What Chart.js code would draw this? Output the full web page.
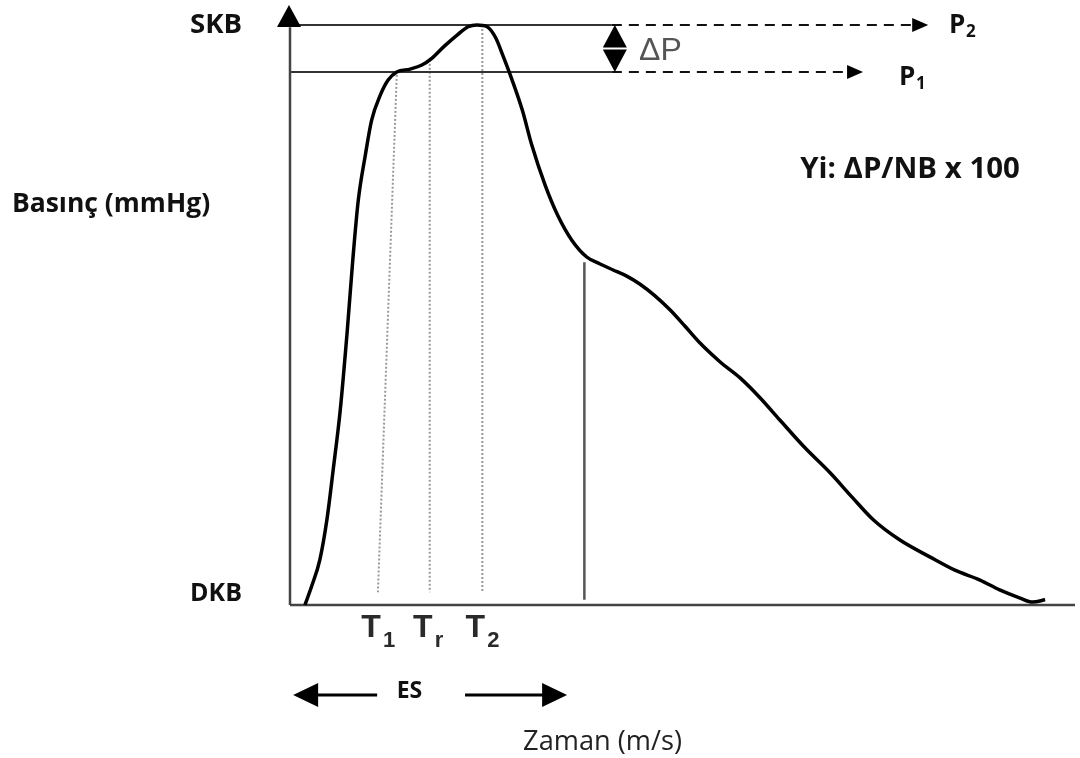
<!DOCTYPE html>
<html>
<head>
<meta charset="utf-8">
<script src="https://cdn.jsdelivr.net/npm/chart.js@4.4.1/dist/chart.umd.min.js"></script>
<style>
  html, body { margin: 0; padding: 0; background: #fff; }
  canvas { display: block; }
</style>
</head>
<body>
<canvas id="pulseChart" width="1080" height="758"></canvas>
<script>
// pulse wave: time as % of the drawn window, pressure as % between DKB (0) and SKB (100)
const waveTime = [1.9, 2.8, 3.8, 4.7, 5.5, 6.4, 7.3, 8.0, 8.7, 9.6, 10.4, 11.5, 12.5, 13.6,
  15.3, 16.8, 18.1, 19.7, 21.4, 22.7, 23.8, 25.1, 26.2, 27.1, 28.3, 29.6, 30.8, 32.5, 34.1,
  35.9, 37.8, 39.5, 41.1, 42.9, 44.6, 46.5, 48.4, 50.3, 52.2, 54.8, 57.3, 59.9, 62.4, 65.6,
  68.8, 71.6, 74.3, 77.7, 81.5, 84.7, 87.9, 90.4, 93.0, 94.6, 96.2];
const wavePressure = [0, 3.4, 7.8, 14.7, 23.3, 33.6, 47.4, 59.5, 69.8, 77.6, 83.6, 87.9, 90.5, 91.9,
  92.4, 93.1, 94.3, 96.4, 98.4, 99.7, 100, 99.7, 97.8, 94.8, 90.5, 85.3, 79.3, 72.4, 67.2,
  62.9, 60.0, 58.8, 57.8, 56.7, 55.3, 53.3, 50.9, 48.1, 45.2, 41.9, 39.2, 35.7, 31.9, 27.1,
  22.8, 18.6, 14.7, 11.2, 8.3, 6.0, 4.3, 2.6, 1.2, 0.5, 0.9];

const skbLevel = 100;
const p1Level = 91.9;
const dkbLevel = 0;
const levelSplitTime = 41.0;
const p2ArrowEnd = 81.3;
const p1ArrowEnd = 73.0;
const axisTimeEnd = 100;

const markerNames = ['1', 'r', '2'];
const markerTopTime = [13.6, 17.8, 24.5];
const markerBottomTime = [11.2, 17.8, 24.5];
const markerTopPressure = [91.4, 94.0, 100];
const markerBottomPressure = 2.2;

const esEndTime = 37.5;
const esEndPressure = [59.1, 0.9];

const esArrowTimes = [0.4, 11.1, 22.3, 35.3];
const esArrowPressure = -15.5;

const seg = (x1, y1, x2, y2) => [{ x: x1, y: y1 }, { x: x2, y: y2 }];

const lineSet = (data, color, width, dash) => ({
  data, borderColor: color, borderWidth: width, borderDash: dash || [],
  pointRadius: 0, showLine: true, tension: 0, fill: false
});

const datasets = [
  {
    data: waveTime.map((t, i) => ({ x: t, y: wavePressure[i] })),
    borderColor: '#000', borderWidth: 3.5, pointRadius: 0, showLine: true,
    cubicInterpolationMode: 'monotone', fill: false
  },
  lineSet(seg(0, 0, axisTimeEnd, 0), '#444', 2.5),
  lineSet(seg(0, 0, 0, 99.6), '#444', 2.5),
  lineSet(seg(0, skbLevel, levelSplitTime, skbLevel), '#333', 2),
  lineSet(seg(levelSplitTime, skbLevel, p2ArrowEnd - 2, skbLevel), '#111', 2, [10, 7]),
  lineSet(seg(0, p1Level, levelSplitTime, p1Level), '#333', 2),
  lineSet(seg(levelSplitTime, p1Level, p1ArrowEnd - 2, p1Level), '#111', 2, [10, 7]),
  lineSet(seg(esEndTime, esEndPressure[0], esEndTime, esEndPressure[1]), '#555', 2.5)
];
markerNames.forEach((n, i) => {
  datasets.push(lineSet(seg(markerTopTime[i], markerTopPressure[i], markerBottomTime[i], markerBottomPressure), '#999', 2, [2, 2]));
});

function head(ctx, tx, ty, dx, dy, len, half) {
  // dx,dy is the direction the head points
  const bx = tx - dx * len, by = ty - dy * len;
  ctx.beginPath();
  ctx.moveTo(tx, ty);
  ctx.lineTo(bx - dy * half, by + dx * half);
  ctx.lineTo(bx + dy * half, by - dx * half);
  ctx.closePath();
  ctx.fill();
}

// centred text sized so that it spans the given width
function fitText(ctx, text, cx, y, width, weight, family) {
  ctx.font = weight + ' 20px ' + family;
  const size = 20 * width / ctx.measureText(text).width;
  ctx.font = weight + ' ' + size.toFixed(1) + 'px ' + family;
  ctx.textAlign = 'center';
  ctx.fillText(text, cx, y);
}

const annotations = {
  id: 'annotations',
  afterDatasetsDraw(chart) {
    const ctx = chart.ctx;
    const X = v => chart.scales.x.getPixelForValue(v);
    const Y = v => chart.scales.y.getPixelForValue(v);
    ctx.save();
    ctx.fillStyle = '#000';

    // arrow heads
    head(ctx, X(0) - 1, 5, 0, -1, 22, 12);
    head(ctx, X(p2ArrowEnd), Y(skbLevel), 1, 0, 16, 7);
    head(ctx, X(p1ArrowEnd), Y(p1Level), 1, 0, 16, 7);

    // delta P double arrow
    const dpx = X(levelSplitTime) + 3;
    const mid = (Y(skbLevel) + Y(p1Level)) / 2;
    head(ctx, dpx, Y(skbLevel), 0, -1, mid - Y(skbLevel) - 1, 12);
    head(ctx, dpx, Y(p1Level), 0, 1, Y(p1Level) - mid - 1, 12);

    // ES arrows
    const ey = Y(esArrowPressure);
    ctx.strokeStyle = '#000';
    ctx.lineWidth = 3;
    ctx.beginPath();
    ctx.moveTo(X(esArrowTimes[0]) + 20, ey); ctx.lineTo(X(esArrowTimes[1]), ey);
    ctx.moveTo(X(esArrowTimes[2]), ey); ctx.lineTo(X(esArrowTimes[3]) - 20, ey);
    ctx.stroke();
    head(ctx, X(esArrowTimes[0]), ey, -1, 0, 25, 12);
    head(ctx, X(esArrowTimes[3]), ey, 1, 0, 25, 12);

    // texts
    const sans = '"Open Sans", sans-serif';
    ctx.textBaseline = 'alphabetic';
    ctx.fillStyle = '#111';
    fitText(ctx, 'SKB', 216, Y(skbLevel) + 8, 52, 'bold', sans);
    fitText(ctx, 'DKB', 216, Y(dkbLevel) - 4, 52, 'bold', sans);
    fitText(ctx, 'Basınç (mmHg)', 111, 212, 198, 'bold', sans);
    fitText(ctx, 'Yi: ΔP/NB x 100', 910, 178, 220, 'bold', sans);
    ctx.font = 'bold 23px ' + sans;
    ctx.textAlign = 'center';
    ctx.fillText('ES', 409.5, ey + 3);

    ctx.textAlign = 'left';
    ctx.font = 'bold 26px ' + sans;
    ctx.fillText('P', 949, Y(skbLevel) + 8);
    ctx.fillText('P', 899, Y(p1Level) + 13);
    ctx.font = 'bold 17px ' + sans;
    ctx.fillText('2', 966, Y(skbLevel) + 12);
    ctx.fillText('1', 916, Y(p1Level) + 17);

    ctx.fillStyle = '#555';
    ctx.font = '32px "Liberation Sans", sans-serif';
    ctx.fillText('ΔP', 639, mid + 12);

    ctx.fillStyle = '#2a2a2a';
    markerNames.forEach((n, i) => {
      const x = X(markerBottomTime[i]);
      ctx.font = 'bold 32px "Liberation Sans Narrow", "Liberation Sans", sans-serif';
      ctx.textAlign = 'center';
      ctx.fillText('T', x - 7, 637);
      ctx.font = 'bold 22px "Liberation Sans Narrow", "Liberation Sans", sans-serif';
      ctx.textAlign = 'left';
      ctx.fillText(n, x + 5, 647);
    });

    ctx.fillStyle = '#222';
    fitText(ctx, 'Zaman (m/s)', 602.5, 750, 159, 'normal', sans);
    ctx.restore();
  }
};

new Chart(document.getElementById('pulseChart'), {
  type: 'scatter',
  data: { datasets },
  options: {
    responsive: false,
    animation: false,
    layout: { padding: 0 },
    plugins: { legend: { display: false }, tooltip: { enabled: false } },
    scales: {
      x: { type: 'linear', display: false, min: -290 / 7.85, max: 790 / 7.85 },
      y: { type: 'linear', display: false, min: -153 / 5.8, max: 605 / 5.8 }
    }
  },
  plugins: [annotations]
});
</script>
</body>
</html>
